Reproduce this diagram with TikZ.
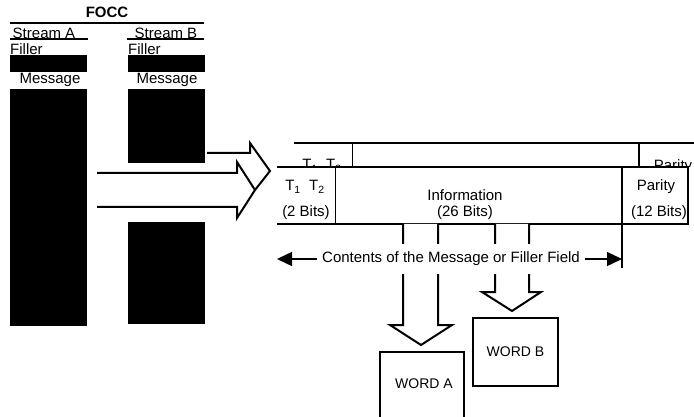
\documentclass[tikz,border=0pt]{standalone}
\usepackage{fontspec}
\setmainfont{Liberation Sans}
\usetikzlibrary{arrows.meta,positioning}

\begin{document}
\begin{tikzpicture}[
    x=1pt, y=-1pt,
    lbl/.style={font=\fontsize{15}{18}\selectfont, inner sep=0pt},
    frame/.style={line width=2pt},
    divider/.style={line width=0.8pt},
    bar/.style={fill=black},
    blockarrow/.style={fill=white, draw=black, line width=2pt, line join=miter},
    dimarrow/.style={-{Triangle[length=15pt,width=14pt]}, line width=1.4pt},
    wordbox/.style={draw, line width=2pt, minimum width=84pt, inner sep=0pt}
  ]
  \useasboundingbox (0,0) rectangle (694,417);

  % FOCC streams
  \node[lbl, font=\fontsize{15}{18}\selectfont\bfseries] (focc) at (107,12) {FOCC};
  \draw[frame] (10,23) -- (204,23);
  \node[lbl] (streama) at (44,33) {Stream A};
  \node[lbl] (streamb) at (166,33) {Stream B};
  \draw[frame] (10,39) -- (88,39);
  \draw[frame] (127,39) -- (204,39);
  \node[lbl, anchor=west] (fillera) at (10,49) {Filler};
  \node[lbl, anchor=west] (fillerb) at (128,49) {Filler};
  \fill[bar] (10,55) rectangle (87,72);
  \fill[bar] (128,55) rectangle (205,72);
  \node[lbl] (messagea) at (50,80) {Message};
  \node[lbl] (messageb) at (167,80) {Message};
  \fill[bar] (10,89) rectangle (87,326);
  \fill[bar] (128,89) rectangle (205,163);
  \fill[bar] (128,222) rectangle (205,324);

  % block arrows into the word
  \coordinate (intip) at (255,190);
  \filldraw[blockarrow] (207,153) -- (250,153) -- (250,143) -- (270,171) -- (intip);
  \filldraw[blockarrow] (97,173) -- (237,173) -- (237,162) -- (intip)
    -- (237,218) -- (237,207) -- (97,207);

  % word behind, only its top shows
  \begin{scope}
    \clip (280,130) rectangle (694,167);
    \draw[frame] (294,143) -- (705,143);
    \draw[divider] (352,143) -- (352,167);
    \draw[frame] (639,143) -- (639,167);
    \node[lbl] (backtbits) at (322,166) {T\textsubscript{1}\ \ T\textsubscript{2}};
    \node[lbl] (backpar) at (673,167) {Parity};
  \end{scope}

  % word in front
  \draw[frame] (277,167) -- (688,167) -- (688,224) -- (277,224);
  \draw[divider] (335,167) -- (335,224);
  \draw[frame] (622,167) -- (622,268);
  \node[lbl] (tbits) at (305,187) {T\textsubscript{1}\ \ T\textsubscript{2}};
  \node[lbl] (tsize) at (306,213) {(2 Bits)};
  \node[lbl] (info) at (465,195) {Information};
  \node[lbl] (isize) at (465,213) {(26 Bits)};
  \node[lbl] (par) at (656,187) {Parity};
  \node[lbl] (psize) at (659,213) {(12 Bits)};

  % block arrows out to the words
  \filldraw[blockarrow] (403,224) -- (403,325) -- (390,325) -- (421,345)
    -- (452,325) -- (438,325) -- (438,224);
  \filldraw[blockarrow] (495,224) -- (495,292) -- (482,292) -- (512,311)
    -- (541,292) -- (529,292) -- (529,224);

  % field extent
  \coordinate (diml) at (277,259);
  \coordinate (dimr) at (622,259);
  \node[lbl, fill=white, inner xsep=5pt, inner ysep=8pt] (contents) at (451,259)
    {Contents of the Message or Filler Field};
  \draw[dimarrow] (contents.west) -- (diml);
  \draw[dimarrow] (contents.east) -- (dimr);

  % words
  \node[wordbox, minimum height=90pt, anchor=north] (worda) at (422,351) {};
  \node[lbl, font=\fontsize{14}{16}\selectfont] (wordalbl) at (424,384) {WORD A};
  \node[wordbox, minimum width=85pt, minimum height=68pt,
        font=\fontsize{14}{16}\selectfont] (wordb) at (515.5,352) {WORD B};
\end{tikzpicture}
\end{document}
